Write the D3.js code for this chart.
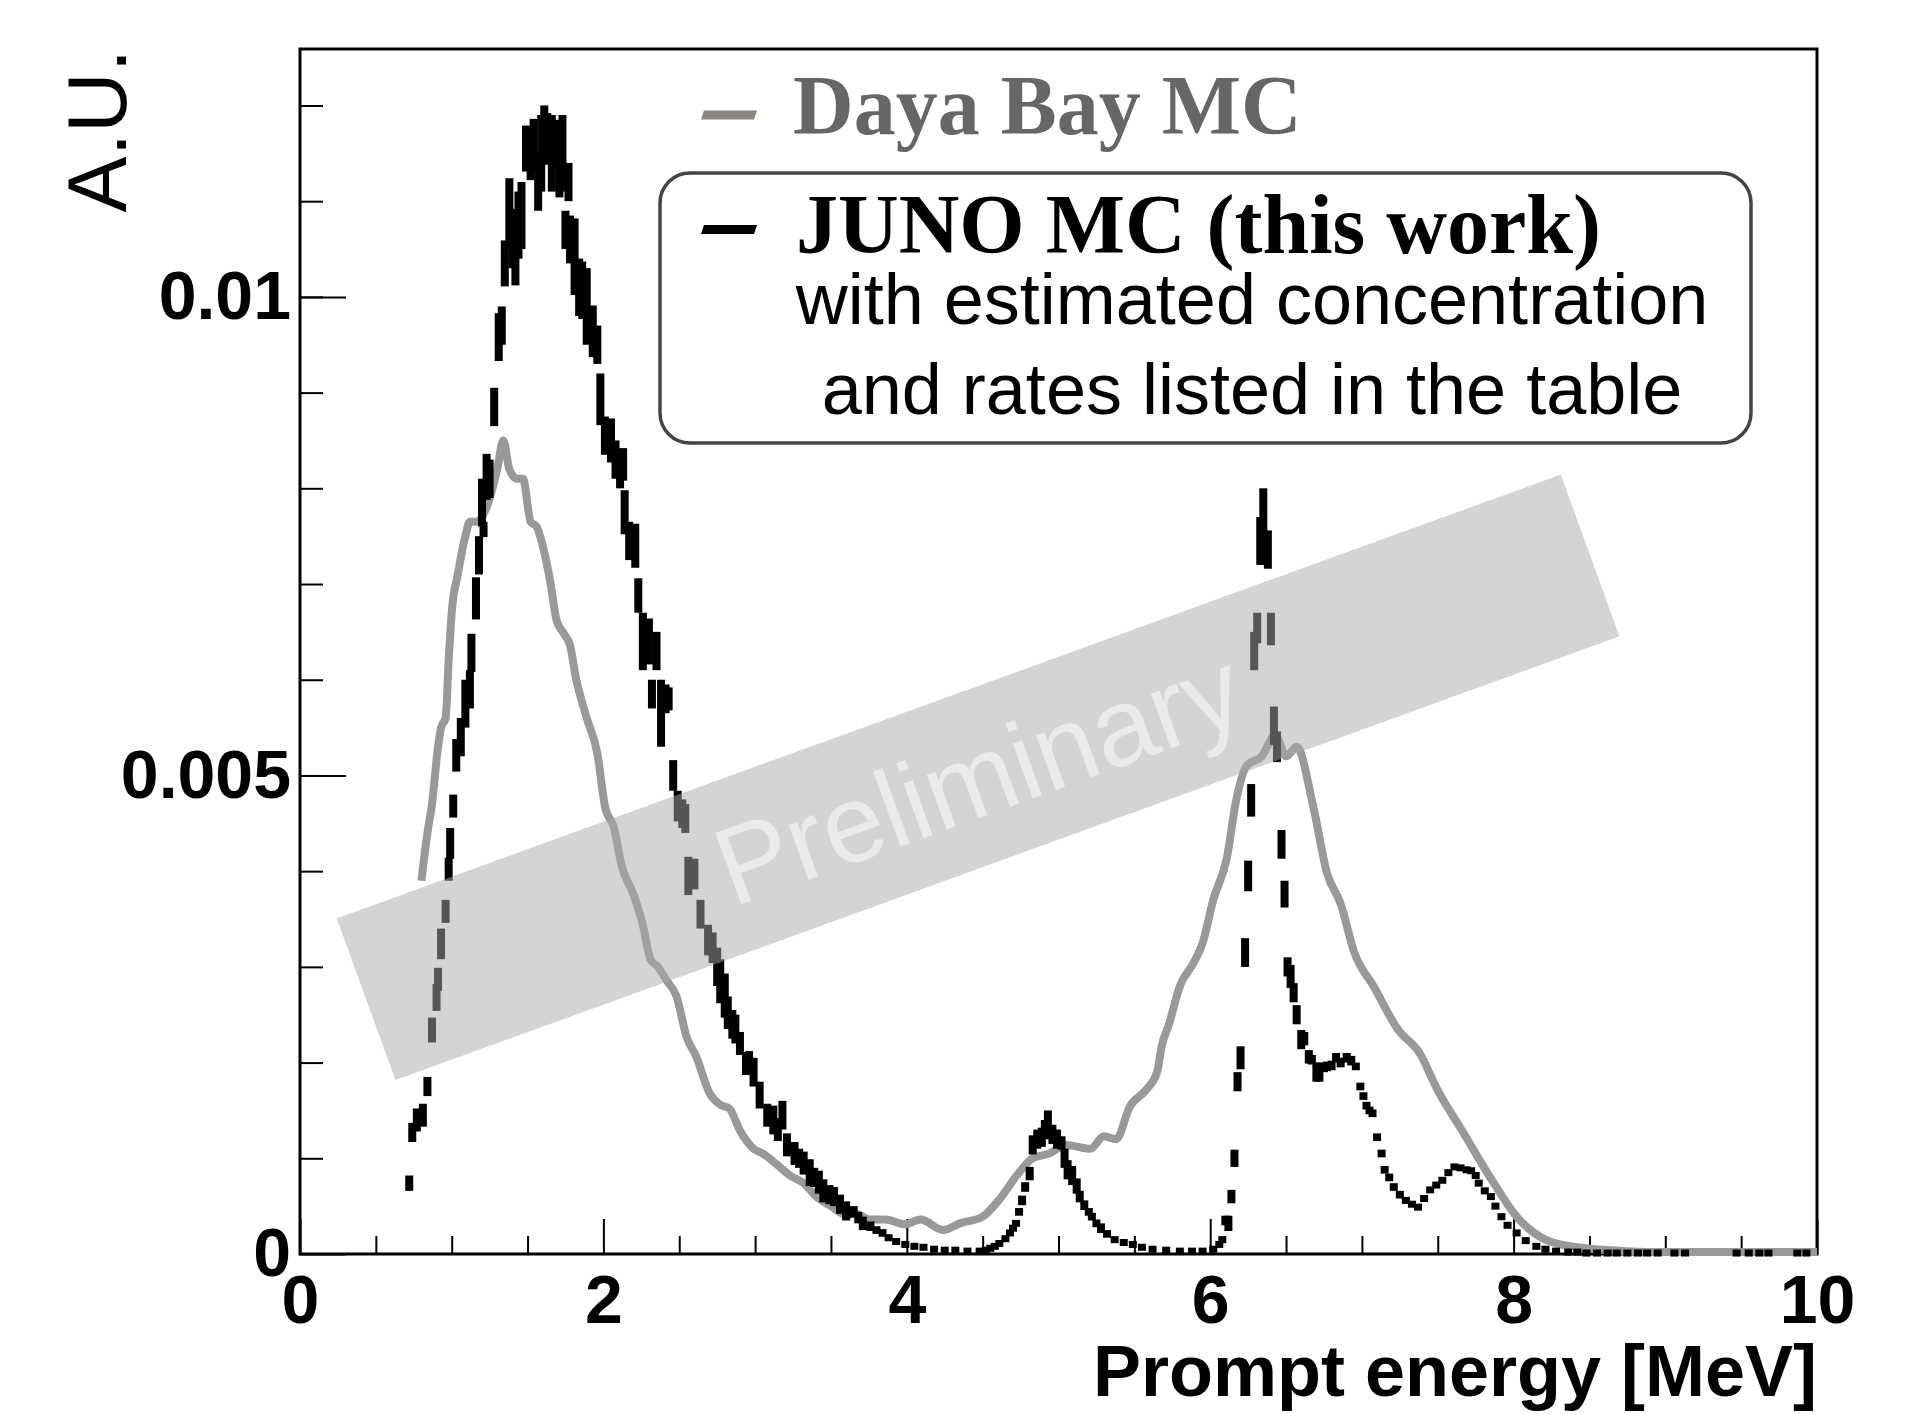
<!DOCTYPE html>
<html>
<head>
<meta charset="utf-8">
<script src="https://cdn.jsdelivr.net/npm/d3@7"></script>
<style>
  body { margin: 0; background: #fff; }
  svg { display: block; }
</style>
</head>
<body>
<script>
// Daya Bay MC spectrum (smooth grey line)
var dayaBayE = [0.80, 0.84, 0.87, 0.91, 0.93, 0.96, 0.98, 1.00, 1.04, 1.09, 1.12, 1.16, 1.23, 1.30, 1.34,
  1.38, 1.43, 1.47, 1.52, 1.56, 1.60, 1.65, 1.69, 1.74, 1.78, 1.82, 1.89, 1.96, 2.01, 2.07, 2.12, 2.20,
  2.26, 2.31, 2.36, 2.42, 2.48, 2.55, 2.61, 2.70, 2.77, 2.83, 2.90, 2.99, 3.05, 3.14, 3.23, 3.32, 3.41,
  3.49, 3.60, 3.66, 3.76, 3.86, 3.99, 4.09, 4.24, 4.35, 4.50, 4.61, 4.72, 4.83, 4.94, 5.05, 5.21, 5.30,
  5.38, 5.47, 5.58, 5.65, 5.68, 5.73, 5.80, 5.89, 5.95, 6.02, 6.11, 6.17, 6.24, 6.34, 6.43, 6.50, 6.57,
  6.68, 6.77, 6.86, 6.95, 7.08, 7.24, 7.38, 7.50, 7.66, 7.87, 8.02, 8.21, 8.42, 8.74, 9.00, 9.50, 10.0];
var dayaBayY = [0.0039, 0.0044, 0.0047, 0.0053, 0.0055, 0.0056, 0.0062, 0.0067, 0.0071, 0.0075, 0.00765,
  0.00765, 0.0078, 0.0082, 0.0085, 0.0082, 0.0081, 0.0081, 0.00765, 0.0076, 0.0074, 0.00702, 0.00663,
  0.00648, 0.00636, 0.00601, 0.0056, 0.00523, 0.00468, 0.00445, 0.00406, 0.00375, 0.00344, 0.00308,
  0.0030, 0.00285, 0.0027, 0.00226, 0.00207, 0.00168, 0.00156, 0.00152, 0.00129, 0.0011, 0.00105,
  0.00094, 0.00082, 0.00074, 0.00059, 0.00051, 0.00041, 0.00042, 0.00036, 0.00036, 0.00031, 0.00036,
  0.00025, 0.00032, 0.00039, 0.00057, 0.00081, 0.0010, 0.00105, 0.00114, 0.0011, 0.00123, 0.0012,
  0.00154, 0.00172, 0.0019, 0.00217, 0.00241, 0.0028, 0.00304, 0.00325, 0.0037, 0.00414, 0.00473,
  0.0051, 0.0052, 0.00542, 0.0052, 0.0053, 0.00467, 0.00398, 0.00366, 0.00315, 0.00279, 0.00234,
  0.0021, 0.00171, 0.00129, 0.00074, 0.00039, 0.00015, 0.00007, 0.00003, 0.00002, 0.00002, 0.00002];

// JUNO MC (this work): bin centre, content and error bar half-height
var junoE = [0.72, 0.74, 0.77, 0.81, 0.84, 0.87, 0.90, 0.91, 0.93, 0.96, 0.98, 0.99, 1.01, 1.03, 1.06,
  1.09, 1.12, 1.13, 1.16, 1.18, 1.20, 1.21, 1.23, 1.25, 1.28, 1.31, 1.33, 1.35, 1.38, 1.40, 1.42, 1.44,
  1.46, 1.49, 1.52, 1.54, 1.57, 1.59, 1.61, 1.63, 1.66, 1.69, 1.71, 1.73, 1.75, 1.77, 1.78, 1.81, 1.84,
  1.86, 1.89, 1.93, 1.96, 1.98, 2.01, 2.05, 2.08, 2.11, 2.13, 2.14, 2.17, 2.21, 2.23, 2.26, 2.30, 2.32,
  2.35, 2.38, 2.41, 2.43, 2.46, 2.49, 2.52, 2.54, 2.56, 2.60, 2.64, 2.69, 2.72, 2.75, 2.77, 2.80, 2.82,
  2.85, 2.87, 2.90, 2.94, 2.96, 2.99, 3.03, 3.08, 3.12, 3.15, 3.18, 3.21, 3.26, 3.29, 3.32, 3.36, 3.39,
  3.42, 3.45, 3.49, 3.52, 3.56, 3.60, 3.65, 3.68, 3.71, 3.76, 3.80, 3.84, 3.88, 3.93, 3.99, 4.05, 4.11,
  4.18, 4.25, 4.32, 4.40, 4.48, 4.52, 4.55, 4.58, 4.61, 4.65, 4.68, 4.70, 4.72, 4.74, 4.76, 4.78, 4.81,
  4.83, 4.86, 4.89, 4.91, 4.93, 4.96, 4.99, 5.02, 5.04, 5.06, 5.09, 5.12, 5.14, 5.17, 5.20, 5.22, 5.25,
  5.28, 5.32, 5.37, 5.43, 5.49, 5.55, 5.62, 5.71, 5.80, 5.88, 5.95, 6.02, 6.06, 6.08, 6.10, 6.12, 6.14,
  6.16, 6.18, 6.20, 6.23, 6.25, 6.27, 6.29, 6.31, 6.33, 6.35, 6.38, 6.40, 6.42, 6.44, 6.47, 6.49, 6.51,
  6.53, 6.55, 6.57, 6.60, 6.62, 6.65, 6.67, 6.70, 6.72, 6.75, 6.77, 6.80, 6.83, 6.86, 6.90, 6.93, 6.96,
  6.99, 7.01, 7.03, 7.05, 7.07, 7.10, 7.13, 7.15, 7.18, 7.21, 7.25, 7.29, 7.33, 7.37, 7.41, 7.45, 7.49,
  7.53, 7.57, 7.61, 7.65, 7.69, 7.72, 7.75, 7.77, 7.81, 7.85, 7.88, 7.92, 7.96, 8.02, 8.08, 8.15, 8.21,
  8.28, 8.36, 8.42, 8.48, 8.55, 8.62, 8.68, 8.75, 8.82, 8.88, 8.95, 9.06, 9.13, 9.47, 9.55, 9.62, 9.68,
  9.87, 9.93];
var junoY = [0.00074, 0.00127, 0.0014, 0.00145, 0.00175, 0.00234, 0.00268, 0.00287, 0.00324, 0.00358,
  0.00402, 0.00429, 0.00468, 0.00521, 0.0054, 0.00575, 0.0059, 0.00628, 0.00685, 0.0073, 0.00785,
  0.00757, 0.00812, 0.0081, 0.00885, 0.00958, 0.0097, 0.01035, 0.01087, 0.0106, 0.01052, 0.01075,
  0.01085, 0.01155, 0.0115, 0.01159, 0.0112, 0.0115, 0.0117, 0.01165, 0.0115, 0.0116, 0.01131, 0.0115,
  0.0107, 0.0112, 0.0106, 0.01042, 0.0101, 0.01007, 0.0099, 0.00964, 0.0095, 0.00893, 0.00855, 0.0085,
  0.0083, 0.0082, 0.00825, 0.00775, 0.00745, 0.0074, 0.00688, 0.0064, 0.0064, 0.00585, 0.0063, 0.00565,
  0.0058, 0.0058, 0.0050, 0.00468, 0.0046, 0.00455, 0.00395, 0.00397, 0.00355, 0.00328, 0.0032, 0.0030,
  0.00285, 0.0027, 0.00252, 0.0024, 0.00235, 0.0022, 0.00199, 0.0020, 0.0019, 0.00166, 0.00145, 0.0014,
  0.0013, 0.00145, 0.00114, 0.00105, 0.0010, 0.00095, 0.00085, 0.0008, 0.00075, 0.00066, 0.00062,
  0.0006, 0.00052, 0.00045, 0.00044, 0.00038, 0.00032, 0.00029, 0.00025, 0.00022, 0.00017, 0.00013,
  0.0001, 0.00008, 0.00007, 0.00005, 0.00004, 0.00004, 0.00003, 0.00003, 0.00004, 0.00006, 0.00008,
  0.00011, 0.00016, 0.00022, 0.00027, 0.00032, 0.00044, 0.00056, 0.0007, 0.00084, 0.00114, 0.0012,
  0.00122, 0.0013, 0.00135, 0.00125, 0.0012, 0.00116, 0.0010, 0.00088, 0.00082, 0.00071, 0.0006,
  0.00051, 0.00044, 0.00039, 0.00032, 0.00027, 0.00021, 0.00015, 0.00012, 0.0001, 0.00007, 0.00005,
  0.00004, 0.00003, 0.00003, 0.00003, 0.00005, 0.0001, 0.00015, 0.00035, 0.00032, 0.0006, 0.0010,
  0.0018, 0.00205, 0.00315, 0.00395, 0.00474, 0.0063, 0.00654, 0.00745, 0.0076, 0.00736, 0.00653,
  0.00552, 0.0053, 0.00428, 0.00376, 0.0030, 0.0029, 0.00273, 0.0025, 0.00224, 0.00225, 0.00206,
  0.00203, 0.0019, 0.0019, 0.00195, 0.00196, 0.00197, 0.00205, 0.0020, 0.00205, 0.00202, 0.00196,
  0.00175, 0.00165, 0.00155, 0.0015, 0.00147, 0.00122, 0.00105, 0.00088, 0.0008, 0.0007, 0.00062,
  0.00056, 0.00052, 0.00049, 0.00058, 0.00067, 0.00072, 0.00077, 0.00085, 0.00091, 0.0009, 0.00088,
  0.00087, 0.00082, 0.00074, 0.00066, 0.0006, 0.0005, 0.00039, 0.0003, 0.00022, 0.00014, 0.00008,
  0.00005, 0.00003, 0.00002, 0.00002, 0.00001, 0.00001, 0.00001, 0.00001, 0.00001, 0.00001, 0.00001,
  0.00001, 0.00001, 0.00001, 0.00001, 0.00001, 0.00001, 0.00001, 0.00001, 0.00001];
var junoErr = [0.00008, 0.0001, 0.00012, 0.00012, 0.0001, 0.00013, 0.00014, 0.00012, 0.00016, 0.00012,
  0.00012, 0.00016, 0.00012, 0.00017, 0.0002, 0.00025, 0.0002, 0.0002, 0.00022, 0.0002, 0.00025,
  0.00008, 0.00024, 0.0002, 0.0002, 0.00025, 0.0002, 0.00024, 0.00037, 0.0003, 0.0004, 0.00035, 0.00035,
  0.00024, 0.00028, 0.00027, 0.0003, 0.0004, 0.0003, 0.00027, 0.0004, 0.00025, 0.00027, 0.0004, 0.0002,
  0.0002, 0.00025, 0.0004, 0.0003, 0.0003, 0.0004, 0.00027, 0.0002, 0.00027, 0.0002, 0.00023, 0.0002,
  0.0002, 0.00017, 0.00023, 0.0002, 0.00023, 0.00018, 0.0003, 0.00024, 0.00015, 0.0002, 0.00035,
  0.00015, 0.00012, 0.00016, 0.00016, 0.00015, 0.00015, 0.0002, 0.00016, 0.00015, 0.00016, 0.00016,
  0.0002, 0.00023, 0.00023, 0.00017, 0.00015, 0.00015, 0.00012, 0.00012, 0.00012, 0.00015, 0.00014,
  0.00012, 0.00015, 0.00012, 0.00015, 0.00012, 0.00012, 0.0001, 0.00012, 0.00014, 0.0001, 0.00012,
  0.00012, 0.0001, 0.0001, 0.0001, 0.0001, 0.00006, 0.00006, 0.00007, 0.00005, 0.00004, 0.00004,
  0.00003, 0.00003, 0.00003, 0.00002, 0.00002, 0.00002, 0.00002, 0.00002, 0.00002, 0.00002, 0.00002,
  0.00002, 0.00002, 0.00002, 0.00003, 0.00003, 0.00003, 0.00003, 0.00004, 0.00005, 0.00005, 0.00007,
  0.0001, 0.0001, 0.0001, 0.0001, 0.00015, 0.0001, 0.0001, 0.00007, 0.0001, 0.0001, 0.0001, 0.00008,
  0.00006, 0.00005, 0.00004, 0.00004, 0.00004, 0.00005, 0.00004, 0.00003, 0.00003, 0.00003, 0.00002,
  0.00002, 0.00002, 0.00002, 0.00002, 0.00002, 0.00002, 0.00002, 0.00003, 0.00005, 0.00008, 0.00007,
  0.00009, 0.0001, 0.00012, 0.00015, 0.00016, 0.00017, 0.0002, 0.00016, 0.00025, 0.0004, 0.0002,
  0.00017, 0.0002, 0.00016, 0.00015, 0.00014, 0.0001, 0.00012, 0.0001, 0.0001, 0.0001, 0.00007, 0.00007,
  0.00005, 0.0001, 0.0001, 0.00005, 0.00005, 0.00005, 0.00005, 0.00005, 0.00005, 0.00005, 0.00004,
  0.00004, 0.00004, 0.00004, 0.00004, 0.00004, 0.00004, 0.00004, 0.00004, 0.00004, 0.00004, 0.00004,
  0.00003, 0.00003, 0.00003, 0.00003, 0.00003, 0.00003, 0.00003, 0.00003, 0.00003, 0.00003, 0.00003,
  0.00003, 0.00003, 0.00003, 0.00003, 0.00003, 0.00003, 0.00003, 0.00003, 0.00002, 0.00002, 0.00002,
  0.00002, 0.00002, 0.00002, 0.00002, 0.00002, 0.00002, 0.00002, 0.00002, 0.00002, 0.00002, 0.00002,
  0.00002, 0.00002, 0.00002, 0.00002, 0.00002, 0.00002, 0.00002, 0.00002, 0.00002];

var xMajor = [0, 2, 4, 6, 8, 10];
var xMajorLabels = ["0", "2", "4", "6", "8", "10"];
var yMajor = [0, 0.005, 0.01];
var yMajorLabels = ["0", "0.005", "0.01"];
var legendLabels = ["Daya Bay MC", "JUNO MC (this work)"];
var legendNote = ["with estimated concentration", "and rates listed in the table"];

var width = 1912, height = 1414;
var padL = 300, padR = 1817, padT = 49, padB = 1254;

var svg = d3.select("body").append("svg")
    .attr("width", width)
    .attr("height", height);
svg.append("rect").attr("width", width).attr("height", height).attr("fill", "#fff");

var x = d3.scaleLinear().domain([0, 10]).range([padL, padR]);
var y = d3.scaleLinear().domain([0, 0.01259]).range([padB, padT]);

var sans = "'Liberation Sans', Arial, Helvetica, sans-serif";
var serif = "'Liberation Serif', 'Times New Roman', serif";

// --- axes ---
var xMinor = d3.range(0, 10.001, 0.5).filter(function(v) { return xMajor.indexOf(v) < 0; });
var yMinor = d3.range(1, 13).map(function(i) { return i / 1000; }).filter(function(v) { return v < 0.0126; });

var gx = svg.append("g").attr("transform", "translate(0," + padB + ")");
gx.append("g").call(d3.axisBottom(x).tickValues(xMinor).tickSize(-18).tickFormat(""));
gx.append("g").call(d3.axisBottom(x).tickValues(xMajor).tickSize(-35).tickPadding(21)
    .tickFormat(function(d, i) { return xMajorLabels[i]; }));

var gy = svg.append("g").attr("transform", "translate(" + padL + ",0)");
gy.append("g").call(d3.axisLeft(y).tickValues(yMinor).tickSize(-23).tickFormat(""));
gy.append("g").call(d3.axisLeft(y).tickValues(yMajor).tickSize(-46).tickPadding(9)
    .tickFormat(function(d, i) { return yMajorLabels[i]; }));

svg.selectAll(".domain").remove();
svg.selectAll(".tick line").attr("stroke", "#000").attr("stroke-width", 2);
svg.selectAll(".tick text")
    .attr("fill", "#000")
    .style("font-family", sans)
    .style("font-weight", "bold")
    .style("font-size", "68px");

svg.append("rect")
    .attr("x", padL).attr("y", padT)
    .attr("width", padR - padL).attr("height", padB - padT)
    .attr("fill", "none").attr("stroke", "#000").attr("stroke-width", 3);

// axis titles
svg.append("text")
    .attr("x", padR).attr("y", 1396)
    .attr("text-anchor", "end")
    .style("font-family", sans).style("font-weight", "bold").style("font-size", "72px")
    .text("Prompt energy [MeV]");

svg.append("text")
    .attr("transform", "translate(126," + padT + ") rotate(-90)")
    .attr("text-anchor", "end")
    .style("font-family", sans).style("font-size", "84px")
    .text("A.U.");

// --- Daya Bay line ---
var dayaBay = dayaBayE.map(function(e, i) { return [e, dayaBayY[i]]; });
svg.append("path")
    .datum(dayaBay)
    .attr("fill", "none")
    .attr("stroke", "#999")
    .attr("stroke-width", 8)
    .attr("stroke-linejoin", "round")
    .attr("d", d3.line()
        .x(function(d) { return x(d[0]); })
        .y(function(d) { return y(d[1]); })
        .curve(d3.curveMonotoneX));

// --- JUNO points with error bars ---
var juno = junoE.map(function(e, i) { return { e: e, v: junoY[i], err: junoErr[i] }; });
function barH(d) { return Math.max(y(d.v - d.err) - y(d.v + d.err), 7); }
svg.append("g").selectAll("rect")
    .data(juno)
    .enter().append("rect")
    .attr("x", function(d) { return x(d.e) - 4; })
    .attr("width", 8)
    .attr("y", function(d) { return y(d.v) - barH(d) / 2; })
    .attr("height", barH)
    .attr("fill", "#000");

// --- "Preliminary" band ---
var bandCx = x(4.47), bandCy = y(0.00498);
var band = svg.append("g")
    .attr("transform", "translate(" + bandCx + "," + bandCy + ") rotate(-19.93)");
band.append("rect")
    .attr("x", -651).attr("y", -86)
    .attr("width", 1302).attr("height", 172)
    .attr("fill", "#a9a9a9").attr("fill-opacity", 0.5);
band.append("text")
    .attr("text-anchor", "middle")
    .attr("dominant-baseline", "central")
    .attr("fill", "#fff").attr("fill-opacity", 0.5)
    .style("font-family", sans).style("font-size", "110px")
    .text("Preliminary");

// --- legend ---
var leg = svg.append("g");
leg.append("rect")
    .attr("x", 660).attr("y", 173)
    .attr("width", 1091).attr("height", 270)
    .attr("rx", 30).attr("ry", 30)
    .attr("fill", "#fff").attr("stroke", "#444").attr("stroke-width", 3.5);

function dash(cy, color) {
  leg.append("path")
    .attr("d", "M704," + (cy - 4.5) + "L757," + (cy - 4.5) + "L754," + (cy + 4.5) + "L701," + (cy + 4.5) + "Z")
    .attr("fill", color);
}
dash(115, "#8a8580");
dash(229.5, "#000");

leg.append("text")
    .attr("x", 793).attr("y", 134)
    .attr("fill", "#666")
    .style("font-family", serif).style("font-weight", "bold").style("font-size", "84px")
    .text(legendLabels[0]);
leg.append("text")
    .attr("x", 796).attr("y", 253)
    .attr("fill", "#000")
    .style("font-family", serif).style("font-weight", "bold").style("font-size", "84px")
    .text(legendLabels[1]);

leg.selectAll("text.note")
    .data(legendNote)
    .enter().append("text")
    .attr("class", "note")
    .attr("x", 1252)
    .attr("y", function(d, i) { return 324 + i * 90; })
    .attr("text-anchor", "middle")
    .attr("fill", "#000")
    .style("font-family", sans).style("font-size", "72px")
    .text(function(d) { return d; });
</script>
</body>
</html>
